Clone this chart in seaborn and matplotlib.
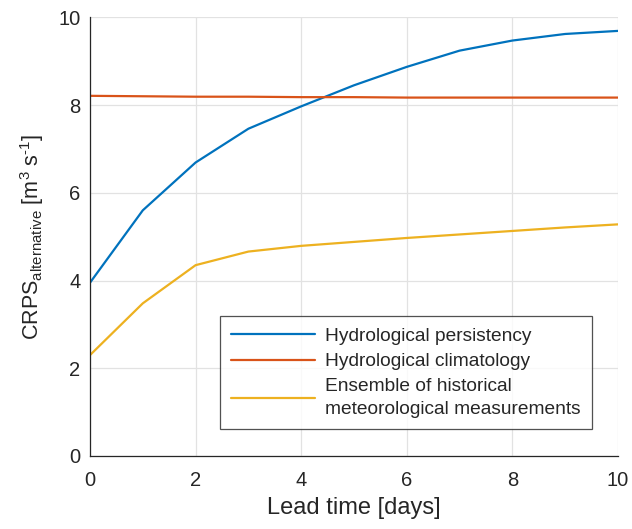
import numpy as np
import pandas as pd
import matplotlib
matplotlib.use("Agg")
import matplotlib.pyplot as plt
import seaborn as sns

lead_time = [0, 1, 2, 3, 4, 5, 6, 7, 8, 9, 10]
persistency = [3.95, 5.60, 6.69, 7.46, 7.97, 8.45, 8.87, 9.24, 9.47, 9.62, 9.69]
climatology = [8.21, 8.20, 8.19, 8.19, 8.18, 8.18, 8.17, 8.17, 8.17, 8.17, 8.17]
ensemble = [2.30, 3.48, 4.35, 4.66, 4.79, 4.88, 4.97, 5.05, 5.13, 5.21, 5.28]

series_names = [
    "Hydrological persistency",
    "Hydrological climatology",
    "Ensemble of historical\nmeteorological measurements",
]
colors = ["#0072BD", "#D95319", "#EDB120"]

df = pd.concat([
    pd.DataFrame({"lead": lead_time, "crps": vals, "series": name})
    for name, vals in zip(series_names, [persistency, climatology, ensemble])
])

sns.set_theme(style="white")
plt.rcParams["font.family"] = ["Liberation Sans", "DejaVu Sans"]
plt.rcParams["mathtext.fontset"] = "custom"
plt.rcParams["mathtext.rm"] = "Liberation Sans"
plt.rcParams["mathtext.it"] = "Liberation Sans"
plt.rcParams["mathtext.default"] = "regular"

fig = plt.figure(figsize=(6.32, 5.29), dpi=100)
ax = fig.add_axes([0.1424, 0.138, 0.8354, 0.8293])

sns.lineplot(data=df, x="lead", y="crps", hue="series", palette=colors,
             hue_order=series_names, linewidth=1.6, ax=ax, legend=True)

ax.set_xlim(0, 10)
ax.set_ylim(0, 10)
ax.set_xticks(range(0, 11, 2))
ax.set_yticks(range(0, 11, 2))
ax.grid(True, color="#e2e2e2", linewidth=0.9)
ax.set_axisbelow(True)

for side in ["top", "right"]:
    ax.spines[side].set_visible(False)
for side in ["left", "bottom"]:
    ax.spines[side].set_color("#262626")
    ax.spines[side].set_linewidth(0.9)
ax.tick_params(direction="in", length=5, width=0.9, colors="#262626",
               labelsize=14.5)
ax.tick_params(axis="x", pad=11)
ax.tick_params(axis="y", pad=7)

ax.set_xlabel("Lead time [days]", fontsize=17, color="#262626", labelpad=5)
ax.set_ylabel(r"CRPS$_{alternative}$ [m$^{3}$ s$^{\text{-}1}$]", fontsize=15.5,
              color="#262626", labelpad=9)

leg = ax.legend(loc="lower right", bbox_to_anchor=(0.951, 0.0615),
                borderaxespad=0, fontsize=13.8, frameon=True, fancybox=False,
                handlelength=4.4, labelspacing=0.42, borderpad=0.6,
                handletextpad=0.5)
leg.get_frame().set_edgecolor("#262626")
leg.get_frame().set_linewidth(0.9)
for line in leg.get_lines():
    line.set_linewidth(1.6)
for txt in leg.get_texts():
    txt.set_linespacing(1.4)

fig.savefig("out.png", dpi=100)
